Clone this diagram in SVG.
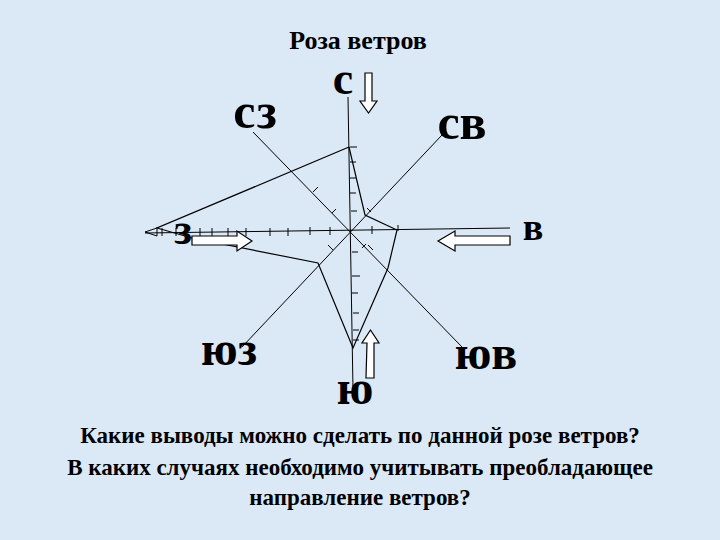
<svg xmlns="http://www.w3.org/2000/svg" width="720" height="540" viewBox="0 0 720 540">
<style>
.t{font-family:"Liberation Serif",serif;font-weight:bold;fill:#000}
.l{stroke:#000;stroke-width:1;fill:none}
.a{stroke:#000;stroke-width:1.2;fill:#fff}
</style>
<rect width="720" height="540" fill="#dbe8f6"/>
<text class="t" x="358" y="49" font-size="26" text-anchor="middle">Роза ветров</text>
<g id="axes" class="l">
<line x1="348" y1="97" x2="353" y2="390"/>
<line x1="145" y1="233" x2="510" y2="228"/>
<line x1="253" y1="132" x2="462" y2="347"/>
<line x1="442" y1="135" x2="242" y2="347"/>
<path d="M350,147h7M350,162h6M350,178h6M350,193h6M351,211h6M352,252h6M352,276h8M352,293h6M353,313h6M353,330h6M353,340h6"/>
<path d="M162,228v8M176,228v8M200,228v8M212,228v8M228,228v8M246,228v8M270,228v8M288,228v8M310,227v8M330,227v8M372,226v8M398,225v6"/>
<path d="M313,192l5,-5M332,213l4,-4M333,250l-5,-5M368,245l5,5M371,212l-4,-4M366,244l-4,4"/>
</g>
<g id="rose" class="l">
<path d="M349,147L365,215L397,230L388,268L353,348L318,263L192,238L157,228L349,147" stroke-width="1.2"/>
<path d="M157,228L145,232L157,236Z"/>
</g>
<g id="arrows">
<path class="a" d="M365,73h7v28h5l-8.5,12l-8.5,-12h5z"/>
<path class="a" d="M366,378h8v-35h5l-8.5,-13l-8.5,13h5z"/>
<path class="a" d="M510,236v9h-55v6l-17,-10l17,-10v5z"/>
<path class="a" d="M192,236v9h45v6l15,-10l-15,-10v5z"/>
</g>
<g id="labels" class="t">
<text x="343" y="94" font-size="46" text-anchor="middle">с</text>
<text x="255" y="128" font-size="50" text-anchor="middle">сз</text>
<text x="462" y="139" font-size="50" text-anchor="middle">св</text>
<text x="533" y="240" font-size="38" text-anchor="middle">в</text>
<text x="183" y="244" font-size="44" text-anchor="middle">з</text>
<text x="229" y="365" font-size="48" text-anchor="middle">юз</text>
<text x="486" y="369" font-size="48" text-anchor="middle">юв</text>
<text x="355" y="404" font-size="48" text-anchor="middle">ю</text>
</g>
<g class="t" font-size="23" text-anchor="middle">
<text x="360" y="443">Какие выводы можно сделать по данной розе ветров?</text>
<text x="360" y="475">В каких случаях необходимо учитывать преобладающее</text>
<text x="360" y="505">направление ветров?</text>
</g>
</svg>
